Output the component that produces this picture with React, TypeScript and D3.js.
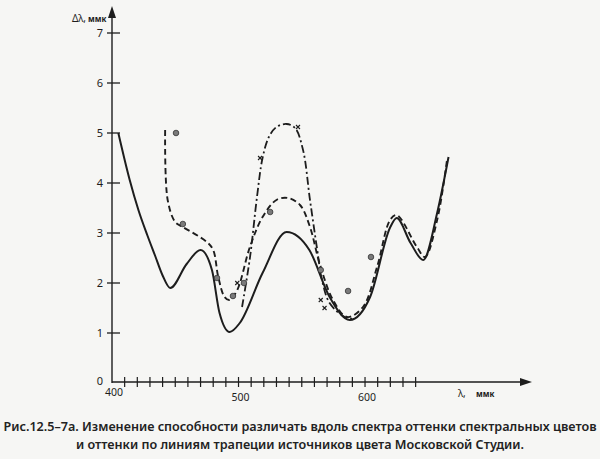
import { useEffect, useRef } from 'react';
import * as d3 from 'd3';

type Pt = [number, number];

// λ (ммк) vs Δλ (ммк)
const solidLine: Pt[] = [
  [405, 5.0], [414, 4.06], [421, 3.45], [428, 2.95], [434, 2.55], [440, 2.15], [446, 1.9],
  [459, 2.38], [470, 2.66], [479, 2.26], [485, 1.4], [493, 1.02], [501, 1.2],
  [519, 2.2], [538, 3.02], [556, 2.66], [572, 1.72], [588, 1.26], [604, 1.72], [620, 3.12],
  [625, 3.3], [636, 2.8], [646, 2.46], [657, 3.4], [666, 4.52],
];

const dashedLine: Pt[] = [
  [442, 5.06], [444, 3.66], [450, 3.22], [456, 3.12], [475, 2.82], [480, 2.66], [484, 2.12],
  [489, 1.72], [493, 1.66], [499, 1.86], [509, 2.72], [519, 3.32], [530, 3.66], [539, 3.7],
  [548.6, 3.56], [556.5, 3.12], [564, 2.4], [574.7, 1.66], [585.8, 1.32], [598.4, 1.52],
  [609.5, 2.32], [619.8, 3.26], [625, 3.36], [641, 2.72], [647.4, 2.52], [657, 3.26], [665, 4.5],
];

const dashDotLine: Pt[] = [
  [502.8, 1.52], [509, 2.5], [514.6, 3.72], [519, 4.5], [524, 4.92], [530, 5.12], [538, 5.18],
  [544.7, 5.1], [551, 4.66], [556.5, 3.66], [562, 2.7], [566, 2.06], [572, 1.6], [584, 1.32],
  [592, 1.28],
];

const circlePoints: Pt[] = [
  [450.6, 5.0], [456, 3.18], [483, 2.1], [495.6, 1.74], [504.3, 2.0], [525, 3.42],
  [565, 2.26], [586.6, 1.84], [604.7, 2.52],
];

const crossPoints: Pt[] = [
  [517, 4.5], [547, 5.12], [499, 2.0], [565, 1.66], [568, 1.5],
];

const yTicks = [1, 2, 3, 4, 5, 6, 7];
const yTickLabels = ['1', '2', '3', '4', '5', '6', '7'];
const xMinorTicks = d3.range(410, 650, 10);
const xLabels = [400, 500, 600];

const captionLines = [
  'Рис.12.5–7а. Изменение способности различать вдоль спектра оттенки спектральных цветов',
  'и оттенки по линиям трапеции источников цвета Московской Студии.',
];

const ink = '#1d1d1d';
const font = '"Noto Sans", "Open Sans", sans-serif';

export default function App() {
  const ref = useRef<SVGSVGElement | null>(null);

  useEffect(() => {
    if (!ref.current) return;
    const svg = d3.select(ref.current);
    svg.selectAll('*').remove();

    const x = d3.scaleLinear().domain([400, 730]).range([112, 529.5]);
    const y = d3.scaleLinear().domain([0, 7]).range([383, 33]);

    svg.append('rect').attr('width', 600).attr('height', 459).attr('fill', '#f6f6f4');

    const g = svg.append('g');

    // y axis with arrow
    g.append('line')
      .attr('x1', x(400)).attr('x2', x(400))
      .attr('y1', y(0)).attr('y2', 14)
      .attr('stroke', ink).attr('stroke-width', 1.4);
    g.append('path')
      .attr('d', `M${x(400) - 4},18 L${x(400)},6 L${x(400) + 4},18 Z`)
      .attr('fill', ink);

    g.selectAll('.ytick')
      .data(yTicks)
      .enter()
      .append('line')
      .attr('x1', x(400) - 5).attr('x2', x(400) + 8)
      .attr('y1', d => y(d)).attr('y2', d => y(d))
      .attr('stroke', ink).attr('stroke-width', 1.3);

    g.selectAll('.ylab')
      .data(yTicks)
      .enter()
      .append('text')
      .attr('x', x(400) - 9)
      .attr('y', d => y(d) + 4)
      .attr('text-anchor', 'end')
      .attr('font-family', font)
      .attr('font-size', 11)
      .attr('fill', ink)
      .text((_, i) => yTickLabels[i]);

    g.append('text')
      .attr('x', x(400) - 9).attr('y', y(0) + 2)
      .attr('text-anchor', 'end')
      .attr('font-family', font).attr('font-size', 11).attr('fill', ink)
      .text('0');

    g.append('text')
      .attr('x', 86).attr('y', 22)
      .attr('text-anchor', 'end')
      .attr('font-family', font).attr('font-size', 10).attr('fill', ink)
      .text('Δλ,');
    g.append('text')
      .attr('x', 88).attr('y', 22)
      .attr('font-family', font).attr('font-size', 8).attr('font-weight', 700).attr('fill', ink)
      .text('ммк');

    // x axis with arrow
    g.append('line')
      .attr('x1', x(400)).attr('x2', 526)
      .attr('y1', y(0) - 1).attr('y2', y(0) - 1)
      .attr('stroke', ink).attr('stroke-width', 1.4);
    g.append('path')
      .attr('d', `M520,${y(0) - 5} L532,${y(0) - 1} L520,${y(0) + 3} Z`)
      .attr('fill', ink);

    g.selectAll('.xtick')
      .data(xMinorTicks)
      .enter()
      .append('line')
      .attr('x1', d => x(d)).attr('x2', d => x(d))
      .attr('y1', y(0) - 6).attr('y2', y(0) + 4)
      .attr('stroke', ink).attr('stroke-width', 1.2);

    g.selectAll('.xlab')
      .data(xLabels)
      .enter()
      .append('text')
      .attr('x', d => x(d) + 2)
      .attr('y', (d, i) => y(0) + (i === 0 ? 13 : 18))
      .attr('text-anchor', 'middle')
      .attr('font-family', font).attr('font-size', 10.5).attr('fill', ink)
      .text(d => String(d));

    g.append('text')
      .attr('x', 458).attr('y', y(0) + 14)
      .attr('font-family', font).attr('font-size', 10).attr('fill', ink)
      .text('λ,');
    g.append('text')
      .attr('x', 476).attr('y', y(0) + 14)
      .attr('font-family', font).attr('font-size', 8).attr('font-weight', 700).attr('fill', ink)
      .text('ммк');

    const line = d3
      .line<Pt>()
      .x(d => x(d[0]))
      .y(d => y(d[1]))
      .curve(d3.curveCatmullRom.alpha(0.5));

    const smoothLine = d3
      .line<Pt>()
      .x(d => x(d[0]))
      .y(d => y(d[1]))
      .curve(d3.curveMonotoneX);

    g.append('path')
      .datum(solidLine)
      .attr('fill', 'none').attr('stroke', ink).attr('stroke-width', 2)
      .attr('d', smoothLine);

    g.append('path')
      .datum(dashedLine)
      .attr('fill', 'none').attr('stroke', ink).attr('stroke-width', 1.9)
      .attr('stroke-dasharray', '6,3.5')
      .attr('d', line);

    g.append('path')
      .datum(dashDotLine)
      .attr('fill', 'none').attr('stroke', ink).attr('stroke-width', 1.8)
      .attr('stroke-dasharray', '8,3,2,3')
      .attr('d', line);

    g.selectAll('.pt')
      .data(circlePoints)
      .enter()
      .append('circle')
      .attr('cx', d => x(d[0])).attr('cy', d => y(d[1]))
      .attr('r', 2.8)
      .attr('fill', '#7a7a7a').attr('stroke', '#333').attr('stroke-width', 0.8);

    g.selectAll('.cross')
      .data(crossPoints)
      .enter()
      .append('path')
      .attr('d', d => {
        const cx = x(d[0]);
        const cy = y(d[1]);
        return `M${cx - 2},${cy - 2}L${cx + 2},${cy + 2}M${cx - 2},${cy + 2}L${cx + 2},${cy - 2}`;
      })
      .attr('stroke', ink).attr('stroke-width', 1.1);

    g.selectAll('.cap')
      .data(captionLines)
      .enter()
      .append('text')
      .attr('x', 300)
      .attr('y', (_, i) => 431 + i * 18)
      .attr('text-anchor', 'middle')
      .attr('font-family', font).attr('font-size', 12.6).attr('font-weight', 600).attr('fill', '#222')
      .text(d => d);
  }, []);

  return (
    <svg
      ref={ref}
      width={600}
      height={459}
      style={{ position: 'absolute', left: 0, top: 0 }}
    />
  );
}
